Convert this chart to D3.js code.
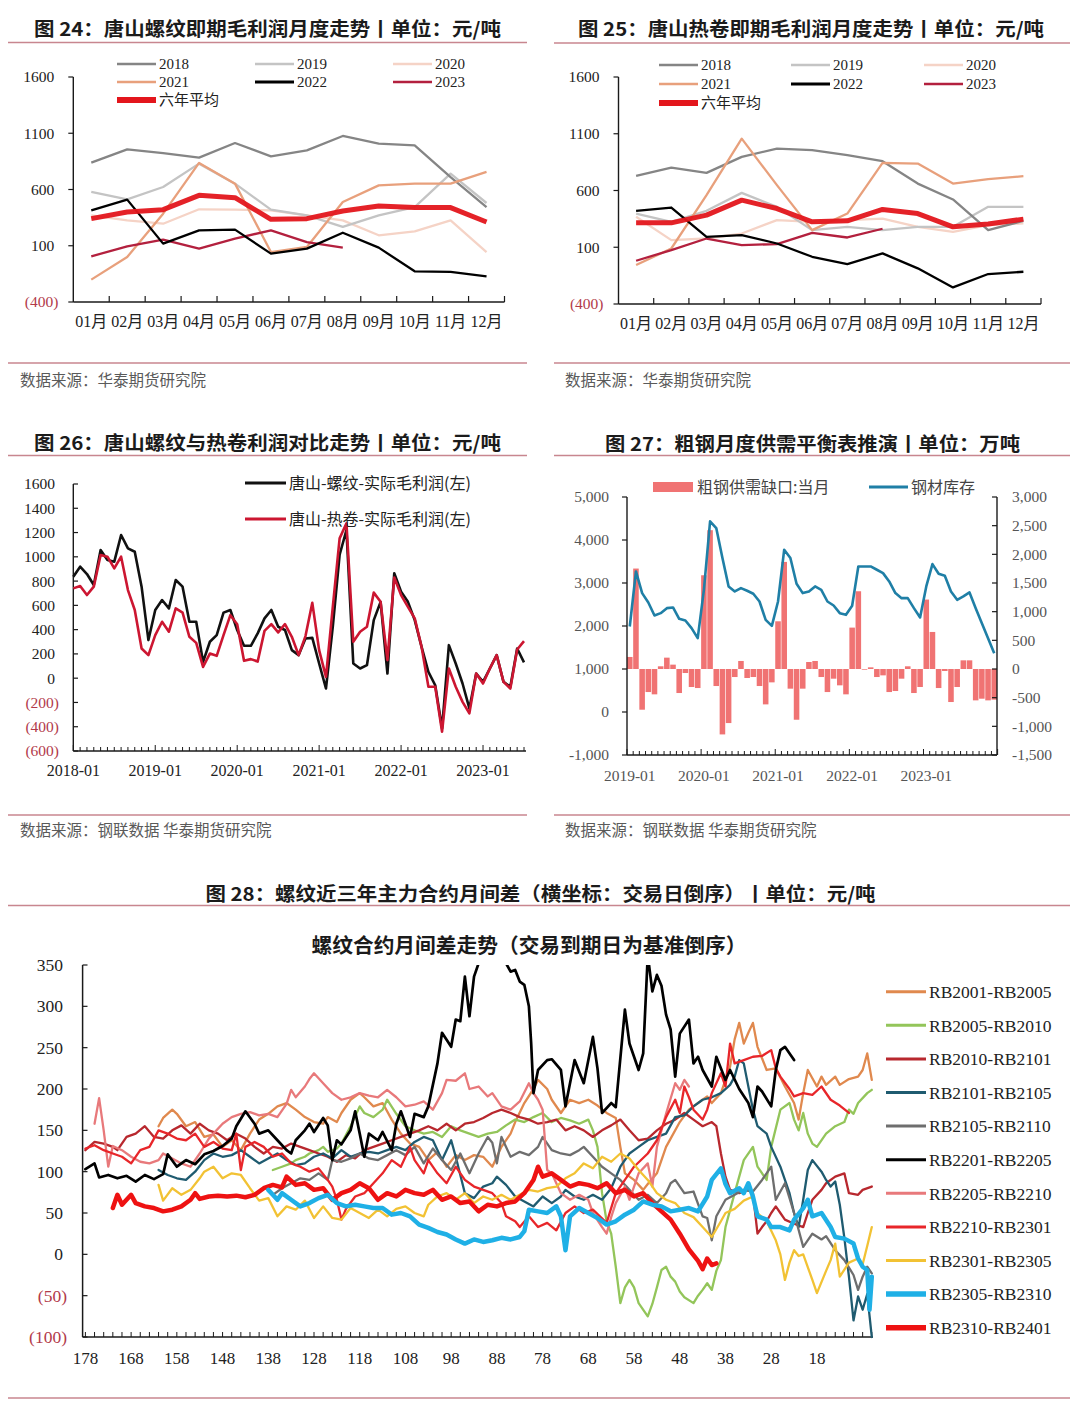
<!DOCTYPE html>
<html><head><meta charset="utf-8">
<script src="https://cdn.jsdelivr.net/npm/d3@7"></script>
<style>body{margin:0;background:#fff;} svg{display:block;}</style>
</head><body>
<script>
// ================= DATA =================
// Fig 24 / 25 : seasonal monthly gross profit (元/吨)
const months = ['01月','02月','03月','04月','05月','06月','07月','08月','09月','10月','11月','12月'];
const seasonTicks = [1600,1100,600,100,-400];
const rebar2018 = [839,957,924,883,1013,895,948,1076,1007,993,711,444];
const rebar2019 = [578,513,622,830,652,421,370,267,370,444,741,480];
const rebar2020 = [370,326,296,424,421,415,370,326,193,228,326,44];
const rebar2021 = [-201,0,385,836,652,44,89,489,637,652,652,756];
const rebar2022 = [415,510,119,237,243,30,74,216,83,-127,-133,-172];
const rebar2023 = [6,95,154,74,163,237,133,83];
const rebarAvg  = [341,400,421,548,527,335,341,409,453,439,439,311];
const hrc2018 = [729,802,755,896,969,955,911,858,661,521,251,333];
const hrc2019 = [397,324,421,579,456,251,280,251,280,280,456,456];
const hrc2020 = [368,163,177,221,339,324,339,353,280,236,295,310];
const hrc2021 = [-57,89,559,1057,647,251,397,843,837,661,700,726];
const hrc2022 = [421,450,192,207,133,16,-48,46,-86,-254,-136,-116];
const hrc2023 = [-19,75,177,119,128,227,186,263];
const hrcAvg  = [315,315,383,515,441,324,333,433,397,280,304,348];

// Fig 26 : monthly 2018-01 .. 2023-07
const p26Start = 2018;
const p26Ticks = [1600,1400,1200,1000,800,600,400,200,0,-200,-400,-600];
const rebarProfit = [836,919,858,768,1056,974,960,1180,1070,1042,754,314,562,644,575,809,754,465,465,135,300,355,540,562,397,267,267,369,493,562,424,397,231,190,327,332,121,-85,424,1017,1221,121,80,107,478,629,38,864,713,629,478,258,52,-58,-413,272,121,-44,-249,38,-30,80,190,-30,-71,245,130];
const hrcProfit = [740,759,685,754,1015,1001,905,1001,726,562,245,190,355,465,383,575,540,341,291,93,203,184,355,519,445,143,157,137,390,445,377,445,341,190,347,621,231,11,588,1152,1276,300,383,424,705,629,149,830,685,588,493,258,-71,-71,-441,80,-71,-195,-290,38,-44,80,190,-30,-85,236,305];

// Fig 27 : monthly 2019-01 .. 2023-12
const p27Start = 2019;
const p27LeftTicks = [5000,4000,3000,2000,1000,0,-1000];
const p27RightTicks = [3000,2500,2000,1500,1000,500,0,-500,-1000,-1500];
const steelGap = [210,1752,-710,-402,-442,47,198,76,-419,-70,-314,-332,
  1635,2421,-297,-1141,-943,-140,140,-157,-140,-297,-617,-233,
  832,1868,-343,-885,-343,122,140,-140,-402,-169,-285,-442,
  722,1356,-12,29,-140,-111,-402,-384,-169,47,-419,-314,
  1211,646,-332,-35,-576,-314,151,151,-547,-518,-547,-535];
const steelInventory = [1988,3269,2765,2547,2244,2299,2415,2431,2167,2128,1950,1717,
  2842,4433,4278,3580,2920,2803,2881,2819,2749,2570,2144,2004,
  2570,3774,3580,2982,2765,2803,2920,2842,2570,2477,2299,2260,
  2470,3385,3385,3385,3308,3230,3036,2765,2648,2648,2415,2198,
  2920,3440,3215,3168,2803,2609,2687,2780,2415,2066,1717,1367];

// Fig 28 : calendar spreads, [trading days to expiry, spread]
const p28YTicks = [350,300,250,200,150,100,50,0,-50,-100];
const p28XLabels = [178,168,158,148,138,128,118,108,98,88,78,68,58,48,38,28,18];
const sp2001_2005 = [[162,155],[161,165],[159,175],[158,170],[156,155],[154,160],[152,142],[150,145],[148,130],[146,138],[144,126],[142,146],[140,163],[138,170],[136,179],[134,183],[132,175],[130,166],[128,160],[126,158],[125,166],[123,160],[122,171],[120,187],[118,195],[117,190],[115,179],[113,183],[111,163],[109,146],[107,134],[105,130],[103,114],[101,124],[99,106],[97,120],[95,114],[93,120],[91,118],[89,106],[87,130],[85,146],[84,160],[82,183],[80,200],[79,211],[77,200],[76,187],[74,171],[72,187],[70,183],[68,187],[66,180],[64,171],[62,165],[61,130],[60,98],[58,90],[56,78],[55,85],[53,98],[51,130],[50,140],[48,160],[46,175],[44,183],[42,191],[41,183],[39,195],[37,227],[36,260],[35,280],[34,255],[33,268],[32,280],[31,251],[29,223],[27,225],[25,203],[23,183],[22,163],[21,195],[20,223],[18,203],[17,215],[16,205],[14,215],[13,205],[11,212],[9,215],[8,223],[7,243],[6,211]];
const sp2005_2010 = [[137,102],[135,106],[133,110],[132,114],[130,118],[129,122],[127,126],[126,130],[125,124],[123,128],[122,134],[120,155],[118,179],[117,171],[115,166],[113,175],[112,187],[110,170],[108,155],[106,150],[104,146],[102,148],[100,142],[98,155],[96,150],[94,146],[92,142],[90,146],[88,148],[86,156],[84,163],[82,160],[80,166],[78,171],[76,160],[74,165],[72,162],[70,158],[68,163],[67,150],[66,130],[65,74],[64,40],[63,25],[62,-15],[61,-59],[60,-40],[59,-31],[58,-40],[57,-59],[55,-75],[54,-60],[53,-40],[52,-19],[51,-15],[50,-27],[49,-33],[48,-45],[47,-52],[45,-59],[44,-50],[43,-43],[42,-35],[41,-43],[40,-20],[39,-7],[38,33],[36,74],[34,114],[32,130],[31,106],[29,90],[28,130],[26,175],[24,183],[23,163],[22,150],[21,171],[20,146],[19,134],[18,130],[16,146],[14,155],[12,160],[11,175],[10,170],[9,183],[7,195],[6,199]];
const sp2010_2101 = [[178,126],[176,136],[174,134],[172,130],[171,126],[169,142],[167,146],[165,155],[163,142],[161,140],[159,150],[157,156],[155,146],[153,158],[151,150],[149,146],[147,138],[145,146],[143,140],[141,130],[139,122],[137,130],[135,128],[133,134],[131,130],[129,126],[127,122],[125,118],[123,112],[121,120],[119,116],[117,126],[115,130],[113,134],[111,138],[109,142],[107,146],[105,150],[103,155],[101,150],[99,158],[97,150],[95,158],[93,160],[91,165],[89,171],[87,175],[85,171],[83,166],[81,163],[79,158],[77,160],[75,163],[73,150],[71,155],[69,150],[67,142],[65,150],[63,156],[61,163],[59,150],[57,138],[55,140],[53,150],[51,158],[49,163],[47,171],[45,163],[43,155],[41,160],[40,155],[39,122],[38,94],[37,78],[35,74],[33,78],[32,74],[31,25],[30,33],[29,40],[28,50],[27,58],[26,50],[25,42],[23,37],[21,33],[20,50],[19,66],[17,78],[16,86],[14,94],[12,98],[11,74],[9,72],[8,78],[6,82]];
const sp2101_2105 = [[162,102],[160,96],[158,92],[156,90],[154,100],[152,114],[150,122],[148,118],[146,120],[144,126],[142,118],[140,110],[138,116],[136,122],[134,114],[132,108],[130,110],[128,118],[126,122],[124,116],[122,126],[120,118],[118,122],[116,124],[114,122],[112,126],[110,130],[108,126],[106,136],[104,142],[102,138],[100,114],[99,126],[98,138],[97,118],[95,74],[93,68],[91,82],[89,86],[88,94],[86,84],[84,70],[82,64],[80,58],[78,70],[76,62],[74,70],[73,78],[71,70],[69,66],[67,72],[65,66],[63,80],[61,106],[59,122],[57,130],[55,138],[53,142],[51,146],[49,166],[47,168],[45,179],[43,187],[41,190],[39,195],[37,205],[36,215],[35,235],[34,231],[32,175],[31,155],[29,146],[28,130],[26,106],[24,74],[23,50],[22,33],[21,66],[20,102],[19,114],[17,100],[16,90],[15,82],[14,88],[13,60],[12,20],[11,-27],[10,-80],[9,-51],[8,-67],[7,-48],[6,-100]];
const sp2105_2110 = [[137,72],[135,80],[133,86],[131,92],[129,90],[127,98],[125,90],[124,114],[122,112],[120,116],[118,122],[116,116],[114,114],[112,120],[110,126],[108,120],[106,130],[104,110],[102,128],[100,114],[98,102],[96,122],[94,98],[92,122],[90,142],[89,135],[88,110],[87,142],[85,118],[83,124],[81,120],[79,130],[78,142],[76,126],[74,122],[72,120],[70,126],[69,130],[67,118],[65,106],[63,98],[61,90],[59,78],[57,66],[55,72],[53,62],[51,74],[50,86],[49,90],[47,74],[45,76],[43,46],[42,44],[41,17],[40,46],[38,66],[36,72],[34,78],[32,76],[30,90],[28,106],[27,66],[25,86],[23,50],[21,9],[19,25],[17,18],[16,22],[14,5],[12,-7],[10,-25],[9,-43],[8,-27],[7,-15],[6,-23]];
const sp2201_2205 = [[178,103],[176,110],[175,93],[173,96],[171,92],[169,95],[167,88],[165,96],[163,91],[161,97],[160,121],[158,106],[156,114],[154,109],[152,121],[150,125],[148,131],[146,140],[145,155],[143,173],[141,158],[140,146],[138,150],[136,138],[134,126],[133,122],[132,138],[130,150],[129,158],[128,148],[126,165],[125,156],[124,114],[123,138],[122,133],[120,150],[119,173],[118,146],[117,118],[116,146],[114,138],[113,148],[111,126],[110,158],[109,173],[107,142],[106,170],[104,166],[103,179],[101,231],[100,268],[98,251],[97,284],[96,282],[95,336],[94,288],[93,336],[92,352],[90,375],[88,385],[86,352],[85,342],[84,344],[83,330],[82,326],[81,300],[80.5,255],[80,195],[79,223],[77,235],[76,236],[74,223],[73,179],[71,235],[69,207],[67,263],[66,225],[65,171],[63,183],[62,178],[60,296],[59,255],[57,223],[56,243],[55,362],[54,318],[53,338],[52,325],[51,290],[50,272],[49,215],[48,267],[46,284],[45,231],[44,239],[43,223],[41,203],[40,239],[38,211],[37,223],[35,200],[33,183],[32,166],[31,203],[30,197],[28,179],[27,223],[26,247],[25,251],[23,235]];
const sp2205_2210 = [[176,158],[175,189],[174,150],[173,106],[172,131],[170,126],[168,118],[166,112],[164,110],[162,114],[161,122],[159,116],[157,110],[155,106],[153,122],[151,140],[150,146],[148,158],[146,166],[144,170],[142,172],[140,168],[138,170],[136,166],[134,182],[133,199],[132,190],[130,203],[129,212],[128,219],[126,207],[124,195],[122,187],[120,190],[118,195],[116,192],[114,190],[112,199],[110,190],[108,179],[106,181],[104,185],[102,175],[100,195],[99,211],[97,210],[95,219],[94,200],[92,203],[90,191],[89,195],[87,179],[85,175],[83,185],[81,207],[80,195],[79,187],[78,175],[77,102],[76,98],[74,74],[72,66],[70,72],[68,66],[67,50],[65,33],[64,25],[63,45],[62,62],[60,82],[59,66],[57,98],[55,110],[54,82],[53,130],[51,170],[49,207],[48,199],[47,211],[46,203]];
const sp2210_2301 = [[178,128],[176,132],[174,126],[172,122],[170,118],[168,110],[166,126],[164,130],[162,150],[160,146],[158,140],[156,138],[154,146],[152,130],[150,136],[148,128],[146,126],[145,146],[144,102],[143,130],[141,136],[139,130],[137,118],[135,122],[133,110],[131,106],[129,100],[127,104],[125,90],[124,82],[123,66],[122,42],[121,55],[119,70],[117,74],[115,86],[113,98],[111,114],[109,106],[107,130],[106,114],[104,98],[103,114],[101,98],[99,86],[97,106],[95,90],[93,82],[91,78],[89,74],[87,62],[86,46],[84,40],[83,33],[81,46],[79,33],[77,38],[75,29],[73,50],[71,58],[69,50],[67,54],[64,38],[62,74],[60,90],[58,106],[55,122],[53,138],[51,166],[49,187],[48,171],[47,203],[46,190],[45,175],[43,163],[42,175],[41,195],[39,219],[38,203],[37,255],[36,231],[34,235],[32,239],[30,240],[28,247],[27,225],[26,215],[24,200],[23,191],[21,195],[19,193],[17,203],[15,187],[13,180],[11,171]];
const sp2301_2305 = [[162,84],[161,65],[159,80],[157,72],[155,78],[153,92],[152,100],[150,106],[148,92],[146,98],[144,96],[142,80],[140,65],[138,68],[136,46],[134,58],[132,54],[130,65],[128,44],[126,58],[124,44],[122,42],[120,56],[118,50],[116,44],[114,54],[112,46],[110,55],[108,58],[106,50],[104,46],[103,60],[101,70],[99,74],[97,66],[95,74],[93,62],[91,70],[89,66],[87,72],[85,66],[83,72],[81,78],[79,76],[77,80],[75,82],[73,92],[71,98],[69,110],[67,104],[65,118],[63,112],[61,122],[59,116],[57,102],[55,90],[53,74],[51,66],[49,62],[47,50],[45,45],[43,33],[41,21],[39,40],[38,50],[36,55],[34,65],[32,70],[31,50],[29,40],[27,17],[26,0],[25,-31],[24,-10],[23,5],[22,-2],[21,0],[19,-31],[18,-47],[16,-20],[15,-7],[14,13],[13,-27],[11,-10],[9,-5],[8,-12],[7,10],[6,33]];
const sp2305_2310 = [[138,78],[137,72],[136,66],[135,74],[133,66],[131,58],[129,62],[127,68],[125,72],[123,62],[121,58],[119,60],[117,58],[115,56],[113,56],[111,48],[109,50],[107,46],[105,36],[103,32],[101,27],[99,24],[97,18],[95,13],[93,18],[91,15],[89,17],[87,20],[85,18],[83,21],[82,28],[81,54],[79,52],[77,50],[75,58],[74,46],[73,5],[72,46],[70,56],[68,50],[66,44],[64,36],[62,40],[60,48],[58,54],[56,64],[54,60],[52,58],[50,52],[48,54],[46,56],[44,52],[42,70],[41,90],[39,104],[38,85],[37,74],[35,80],[34,74],[33,86],[32,70],[31,46],[29,42],[28,33],[26,33],[24,29],[23,42],[21,56],[20,66],[19,46],[17,50],[15,33],[14,21],[12,19],[10,13],[9,-5],[8,-15],[7,-19],[6.5,-67],[6,-27]];
const sp2310_2401 = [[172,56],[171,72],[170,60],[168,72],[167,62],[165,58],[163,56],[161,52],[159,54],[157,58],[155,66],[154,74],[153,67],[151,70],[149,71],[147,70],[145,71],[143,69],[141,72],[139,80],[137,84],[135,81],[134,94],[132,84],[130,86],[128,78],[126,80],[124,66],[122,74],[120,78],[118,86],[116,80],[114,66],[112,74],[110,70],[108,78],[106,74],[104,72],[102,78],[100,66],[98,70],[96,62],[94,64],[92,52],[90,60],[88,58],[86,62],[84,64],[82,74],[80,90],[79,106],[78,94],[76,98],[74,90],[72,82],[70,86],[68,84],[66,80],[64,86],[62,74],[60,78],[58,70],[56,74],[54,62],[52,52],[50,42],[48,25],[46,6],[44,-8],[43,-18],[42,-5],[41,-13],[40,-11]];

// ================= DRAWING =================
const W=1080,H=1412;
const svg=d3.select('body').append('svg').attr('width',W).attr('height',H);
svg.append('rect').attr('width',W).attr('height',H).attr('fill','#fff');
const SERIF="'Liberation Serif','Times New Roman',serif";
const SANS="'Noto Sans CJK SC','Noto Sans',sans-serif";
const MIX="'Liberation Serif','Noto Sans CJK SC',serif";
const SEP='#c8868f', NEG='#b23a4a', AX='#1a1a1a';

function title(txt,cx,y,size,len){
  const t=svg.append('text').attr('x',cx).attr('y',y).attr('text-anchor','middle')
    .attr('font-family',SANS).attr('font-weight',700).attr('font-size',size).attr('fill','#1b1b1b').text(txt);
  if(len) t.attr('textLength',len).attr('lengthAdjust','spacingAndGlyphs');
}
function hline(x1,x2,y,w){svg.append('line').attr('x1',x1).attr('x2',x2).attr('y1',y).attr('y2',y).attr('stroke',SEP).attr('stroke-width',w||1.6);}
function source(txt,x,y){svg.append('text').attr('x',x).attr('y',y).attr('font-family',SANS).attr('font-size',15.5).attr('fill','#5a5a5a').text(txt);}
function paren(v){return v<0?'('+Math.abs(v)+')':String(v);}
function seg(g,x1,y1,x2,y2,c,w){return g.append('line').attr('x1',x1).attr('y1',y1).attr('x2',x2).attr('y2',y2).attr('stroke',c).attr('stroke-width',w);}

// ---------- seasonal panels ----------
const yearColors=['#858585','#c4c4c4','#f5d3c6','#e8a07c','#000000','#b3203e'];
function seasonPanel(o){
  const g=svg.append('g');
  const x=d3.scaleBand().domain(months).range([o.x0,o.x1]);
  const y=d3.scaleLinear().domain([-400,1600]).range([o.yb,o.yt]);
  seg(g,o.x0,o.yt,o.x0,o.yb,AX,1.4);
  seasonTicks.forEach(t=>{
    seg(g,o.x0-5,y(t),o.x0,y(t),AX,1.2);
    g.append('text').attr('x',t<0?o.x0-15:o.x0-19).attr('y',y(t)).attr('dy','0.35em').attr('text-anchor','end')
      .attr('font-family',SERIF).attr('font-size',15.5).attr('fill',t<0?NEG:'#222').text(paren(t));
  });
  seg(g,o.x0,o.yb,o.x1,o.yb,AX,1.4);
  months.forEach((m,i)=>{
    const bx=x(m)+x.bandwidth();
    seg(g,bx,o.yb,bx,o.yb-6,AX,1.2);
    g.append('text').attr('x',x(m)+x.bandwidth()/2).attr('y',o.yb+25).attr('text-anchor','middle')
      .attr('font-family',MIX).attr('font-size',16).attr('fill','#222').text(m);
  });
  const line=d3.line().x((d,i)=>x(months[i])+x.bandwidth()/2).y(d=>y(d));
  const order=[2,1,0,3,5,4];
  order.forEach(k=>{
    g.append('path').attr('d',line(o.series[k])).attr('fill','none').attr('stroke',yearColors[k]).attr('stroke-width',2.3).attr('stroke-linejoin','round');
  });
  g.append('path').attr('d',line(o.avg)).attr('fill','none').attr('stroke','#e3161c').attr('stroke-width',5).attr('stroke-linejoin','round').attr('opacity',0.95);
  // legend
  const labels=['2018','2019','2020','2021','2022','2023'];
  labels.forEach((lb,i)=>{
    const c=i%3, r=Math.floor(i/3);
    const lx=o.legCols[c], ly=o.legRows[r];
    seg(g,lx,ly,lx+39,ly,yearColors[i],i===4?2.8:2.6);
    g.append('text').attr('x',lx+42).attr('y',ly).attr('dy','0.34em').attr('font-family',SERIF).attr('font-size',15).attr('fill','#222').text(lb);
  });
  seg(g,o.legCols[0],o.legRows[2],o.legCols[0]+39,o.legRows[2],'#e3161c',6);
  g.append('text').attr('x',o.legCols[0]+42).attr('y',o.legRows[2]).attr('dy','0.34em').attr('font-family',SANS).attr('font-size',15).attr('fill','#222').text('六年平均');
}

// Panel 24
title('图 24：唐山螺纹即期毛利润月度走势丨单位：元/吨',267.5,36,19,467);
hline(8,527,42.5);
seasonPanel({x0:73.3,x1:504.5,yt:77,yb:302,series:[rebar2018,rebar2019,rebar2020,rebar2021,rebar2022,rebar2023],avg:rebarAvg,
  legCols:[117,255,393],legRows:[64,82,100]});
hline(8,527,363);
source('数据来源：华泰期货研究院',20,386);

// Panel 25
title('图 25：唐山热卷即期毛利润月度走势丨单位：元/吨',811,36,19,466);
hline(554,1070,43);
seasonPanel({x0:618.5,x1:1041,yt:77,yb:304,series:[hrc2018,hrc2019,hrc2020,hrc2021,hrc2022,hrc2023],avg:hrcAvg,
  legCols:[659,791,924],legRows:[65,84,103]});
hline(554,1070,363);
source('数据来源：华泰期货研究院',565,386);

// ---------- Panel 26 ----------
(function(){
  title('图 26：唐山螺纹与热卷利润对比走势丨单位：元/吨',267.5,450,19,467);
  hline(8,527,455.5);
  const g=svg.append('g');
  const n=rebarProfit.length;
  const x=d3.scaleLinear().domain([0,n-1]).range([73.3,524]);
  const y=d3.scaleLinear().domain([-600,1600]).range([751,484]);
  seg(g,73.3,484,73.3,751,AX,1.4);
  p26Ticks.forEach(t=>{
    seg(g,73.3,y(t),78,y(t),AX,1.2);
    g.append('text').attr('x',t<0?59:55).attr('y',y(t)).attr('dy','0.35em').attr('text-anchor','end')
      .attr('font-family',SERIF).attr('font-size',15.5).attr('fill',t<0?NEG:'#222').text(paren(t));
  });
  seg(g,73.3,751,526,751,AX,1.4);
  d3.range(n).forEach(i=>{
    seg(g,x(i),751,x(i),i%12===0?745:747,AX,1);
    if(i%12===0) g.append('text').attr('x',x(i)).attr('y',776).attr('text-anchor','middle')
      .attr('font-family',SERIF).attr('font-size',16).attr('fill','#222').text((p26Start+i/12)+'-01');
  });
  const line=d3.line().x((d,i)=>x(i)).y(d=>y(d));
  g.append('path').attr('d',line(rebarProfit)).attr('fill','none').attr('stroke','#111').attr('stroke-width',2.6).attr('stroke-linejoin','round');
  g.append('path').attr('d',line(hrcProfit)).attr('fill','none').attr('stroke','#cc1631').attr('stroke-width',2.6).attr('stroke-linejoin','round');
  seg(g,245,483,286,483,'#111',3);
  g.append('text').attr('x',289).attr('y',483).attr('dy','0.36em').attr('font-family',SANS).attr('font-size',16).attr('fill','#222').text('唐山-螺纹-实际毛利润(左)');
  seg(g,245,519,286,519,'#cc1631',3);
  g.append('text').attr('x',289).attr('y',519).attr('dy','0.36em').attr('font-family',SANS).attr('font-size',16).attr('fill','#222').text('唐山-热卷-实际毛利润(左)');
  hline(8,527,815);
  source('数据来源：钢联数据 华泰期货研究院',20,836);
})();

// ---------- Panel 27 ----------
(function(){
  title('图 27：粗钢月度供需平衡表推演丨单位：万吨',812.5,451,19,415);
  hline(554,1070,455.5);
  const g=svg.append('g');
  const n=steelGap.length;
  const x=d3.scaleBand().domain(d3.range(n)).range([627,997]).paddingInner(0.1);
  const yL=d3.scaleLinear().domain([-1000,5000]).range([755,497]);
  const yR=d3.scaleLinear().domain([-1500,3000]).range([755,497]);
  const fmt=v=>d3.format(',')(v).replace('−','-');
  g.selectAll('rect.bar').data(steelGap).enter().append('rect')
    .attr('x',(d,i)=>x(i)).attr('width',x.bandwidth())
    .attr('y',d=>Math.min(yR(0),yR(d))).attr('height',d=>Math.abs(yR(d)-yR(0)))
    .attr('fill','#f07373');
  seg(g,627,497,627,755,AX,1.4);
  p27LeftTicks.forEach(t=>{
    seg(g,622,yL(t),627,yL(t),AX,1.2);
    g.append('text').attr('x',609).attr('y',yL(t)).attr('dy','0.35em').attr('text-anchor','end')
      .attr('font-family',SERIF).attr('font-size',15.5).attr('fill','#555').text(fmt(t));
  });
  seg(g,997,497,997,755,AX,1.4);
  p27RightTicks.forEach(t=>{
    seg(g,992,yR(t),997,yR(t),AX,1.2);
    g.append('text').attr('x',1012).attr('y',yR(t)).attr('dy','0.35em').attr('text-anchor','start')
      .attr('font-family',SERIF).attr('font-size',15.5).attr('fill','#555').text(fmt(t));
  });
  seg(g,627,755,997,755,AX,1.4);
  const step=x.step();
  d3.range(n+1).forEach(i=>{ const tx=627+i*step; seg(g,tx,755,tx,i%12===0?749:751,AX,1); });
  d3.range(0,n,12).forEach(i=>{
    g.append('text').attr('x',x(i)+x.bandwidth()/2).attr('y',781).attr('text-anchor','middle')
      .attr('font-family',SERIF).attr('font-size',15.5).attr('fill','#555').text((p27Start+i/12)+'-01');
  });
  const line=d3.line().x((d,i)=>x(i)+x.bandwidth()/2).y(d=>yL(d));
  g.append('path').attr('d',line(steelInventory)).attr('fill','none').attr('stroke','#1f7fa6').attr('stroke-width',2.6).attr('stroke-linejoin','round');
  g.append('rect').attr('x',653).attr('y',482).attr('width',40).attr('height',10).attr('fill','#f07373');
  g.append('text').attr('x',697).attr('y',487).attr('dy','0.36em').attr('font-family',SANS).attr('font-size',16).attr('fill','#444').text('粗钢供需缺口:当月');
  seg(g,869,487,908,487,'#1f7fa6',3);
  g.append('text').attr('x',911).attr('y',487).attr('dy','0.36em').attr('font-family',SANS).attr('font-size',16).attr('fill','#444').text('钢材库存');
  hline(554,1070,815);
  source('数据来源：钢联数据 华泰期货研究院',565,836);
})();

// ---------- Panel 28 ----------
(function(){
  title('图 28：螺纹近三年主力合约月间差（横坐标：交易日倒序）丨单位：元/吨',540.5,901,19,670);
  hline(8,1070,905.5);
  title('螺纹合约月间差走势（交易到期日为基准倒序）',529,953,20.5,435);
  const g=svg.append('g');
  const x=d3.scaleLinear().domain([178,6]).range([85.4,871.8]);
  const y=d3.scaleLinear().domain([-100,350]).range([1337,965]);
  svg.append('defs').append('clipPath').attr('id','clip28').append('rect')
    .attr('x',82).attr('y',965).attr('width',800).attr('height',375);
  seg(g,82.6,965,82.6,1337,AX,1.5);
  p28YTicks.forEach(t=>{
    seg(g,82.6,y(t),87.5,y(t),AX,1.2);
    g.append('text').attr('x',t<0?67:63).attr('y',y(t)).attr('dy','0.35em').attr('text-anchor','end')
      .attr('font-family',SERIF).attr('font-size',17.5).attr('fill',t<0?NEG:'#222').text(paren(t));
  });
  seg(g,82.6,1337,873,1337,AX,1.5);
  d3.range(178,5,-2).forEach(d=>seg(g,x(d),1337,x(d),1332,AX,1));
  p28XLabels.forEach(d=>{
    g.append('text').attr('x',x(d)).attr('y',1364).attr('text-anchor','middle')
      .attr('font-family',SERIF).attr('font-size',17).attr('fill','#222').text(d);
  });
  const series=[
    {name:'RB2001-RB2005',data:sp2001_2005},
    {name:'RB2005-RB2010',data:sp2005_2010},
    {name:'RB2010-RB2101',data:sp2010_2101},
    {name:'RB2101-RB2105',data:sp2101_2105},
    {name:'RB2105-RB2110',data:sp2105_2110},
    {name:'RB2201-RB2205',data:sp2201_2205},
    {name:'RB2205-RB2210',data:sp2205_2210},
    {name:'RB2210-RB2301',data:sp2210_2301},
    {name:'RB2301-RB2305',data:sp2301_2305},
    {name:'RB2305-RB2310',data:sp2305_2310},
    {name:'RB2310-RB2401',data:sp2310_2401}
  ];
  const styles=[
    {c:'#e0894e',w:2.3},{c:'#93c55a',w:2.3},{c:'#b8282e',w:2.3},{c:'#1f5b70',w:2.3},{c:'#6e6e6e',w:2.3},
    {c:'#000000',w:2.7},{c:'#e8797b',w:2.3},{c:'#e8262a',w:2.3},{c:'#f2c234',w:2.3},{c:'#1fb0e6',w:4.5},{c:'#ee1212',w:4.5}
  ];
  const line=d3.line().x(d=>x(d[0])).y(d=>y(d[1])).curve(d3.curveLinear);
  const pg=g.append('g').attr('clip-path','url(#clip28)');
  const drawOrder=[0,1,2,3,4,6,7,8,5,10,9];
  drawOrder.forEach(k=>{
    pg.append('path').attr('d',line(series[k].data)).attr('fill','none')
      .attr('stroke',styles[k].c).attr('stroke-width',styles[k].w).attr('stroke-linejoin','round').attr('stroke-linecap','round');
  });
  series.forEach((s,k)=>{
    const ly=991.7+k*33.6;
    seg(g,886,ly,926,ly,styles[k].c,styles[k].w>3?5.5:3);
    g.append('text').attr('x',929).attr('y',ly).attr('dy','0.36em').attr('font-family',SERIF).attr('font-size',17.5).attr('fill','#222').text(s.name);
  });
  hline(8,1070,1398);
})();
</script>
</body></html>
